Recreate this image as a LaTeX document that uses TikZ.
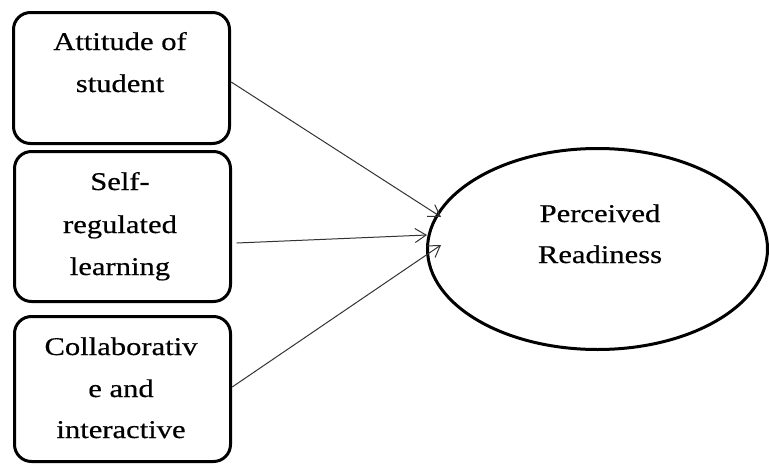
\documentclass[tikz,border=0pt]{standalone}
\usepackage{fontspec}
\setmainfont{Liberation Serif}[FakeStretch=1.2,FakeBold=0.5]
\usetikzlibrary{arrows.meta,shapes.geometric,calc}
\tikzset{
  box/.style={draw=black, line width=3pt, rounded corners=17pt},
  lbl/.style={font=\fontsize{25.5}{42}\selectfont, text=black, align=center, inner sep=0pt, anchor=base},
  conn/.style={draw=black!80, line width=1pt, -{Straight Barb[length=11pt,width=14pt,line width=1pt]}},
}
\begin{document}
\begin{tikzpicture}[x=1pt,y=-1pt]
\useasboundingbox (0,0) rectangle (769,466);
% boxes
\draw[box] (13.5,12.5) rectangle (229.5,143.5);
\node[minimum width=216pt, minimum height=131pt, inner sep=0pt] (A) at (121.5,78) {};
\draw[box] (14.5,151.5) rectangle (230.5,301.5);
\node[minimum width=216pt, minimum height=150pt, inner sep=0pt] (B) at (122.5,226.5) {};
\draw[box] (14.5,316.5) rectangle (230.5,461.5);
\node[minimum width=216pt, minimum height=145pt, inner sep=0pt] (C) at (122.5,389) {};
% texts
\node[lbl] (ta1) at (120,50) {Attitude of};
\node[lbl] (ta2) at (120,92) {student};
\node[lbl] (tb1) at (120,190) {Self-};
\node[lbl] (tb2) at (120,233) {regulated};
\node[lbl] (tb3) at (120,275) {learning};
\node[lbl] (tc1) at (121,355) {Collaborativ};
\node[lbl] (tc2) at (121,397) {e and};
\node[lbl] (tc3) at (121,438) {interactive};
% ellipse
\node[draw=black, line width=3pt, ellipse, minimum width=340pt, minimum height=201pt, inner sep=0pt] (E) at (597.5,249) {};
\node[lbl] (te1) at (600,222) {Perceived};
\node[lbl] (te2) at (600,263) {Readiness};
% connectors
\draw[conn] ($(A.east)+(1.5,4)$) -- ($(E.west)+(15,-32)$);
\draw[conn] ($(B.east)+(6,16.5)$) -- ($(E.west)+(1,-14)$);
\draw[conn] ($(C.east)+(1.5,-2)$) -- ($(E.west)+(15,-4)$);
\end{tikzpicture}
\end{document}
